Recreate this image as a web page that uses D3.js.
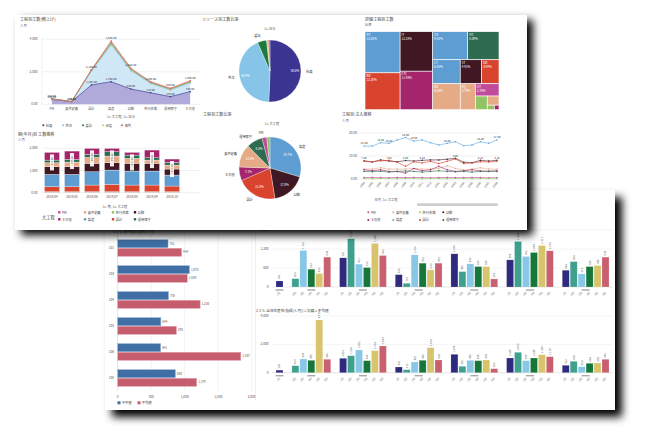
<!DOCTYPE html>
<html><head><meta charset="utf-8">
<script src="https://cdn.jsdelivr.net/npm/d3@7/dist/d3.min.js"></script>
<style>html,body{margin:0;padding:0;background:#fff;overflow:hidden}</style>
</head><body>
<script>
// ================= DATA =================
// Panel 1 – stacked area (工程別工数 積上げ)
const phaseCats = ["PM","要件定義","設計","製造","試験","移行準備","運用保守","その他"];
const resourceNames = ["社員","外注","委託","派遣","海外"];
const resSeisha = [300,160,1190,1390,940,710,470,780];
const resGaichu = [20,5,860,2260,1130,580,410,530];
const resItaku  = [10,5,40,130,80,50,60,80];
const resHaken  = [5,0,10,30,10,10,10,10];
const resKaigai = [5,2,20,80,60,40,40,50];
const areaTicks = [0,2000,4000];
const areaTickLabels = ["0.00","2,000","4,000"];

// Panel 1 – resource pie
const resShare = [50.6,42.9,4.7,0.9,0.9];

// Panel 1 – treemap
const tmNames  = ["PG","BD","IT","ETC","CD","MT","CT","RD","ST","DD","RQ","OT","MG","RV","MR","PX"];
const tmValues = [13.5,12.1,12.0,11.7,9.2,8.2,6.2,6.7,4.8,3.9,3.7,2.7,1.5,1.0,0.3,0.2];
const tmPhase  = ["製造","設計","試験","その他","製造","運用保守","製造","要件定義","試験","設計","要件定義","PM","移行準備","要件定義","移行準備","その他"];
const tmNesting = [[0,1],[2,3],[[4,5],[[6,7],[[8,9],[10,[11,[12,[13,[14,15]]]]]]]]];

// Panel 1 – stacked bars by period
const sbPeriods = ["2019/04","2019/05","2019/06","2019/07","2019/08","2019/09","2019/10"];
const sbPM     = [20,20,20,25,20,20,20];
const sbIko    = [25,25,25,20,25,25,25];
const sbSekkei = [225,225,300,330,300,300,255];
const sbSeizo  = [555,555,600,645,630,630,495];
const sbShiken = [345,345,375,330,345,345,270];
const sbYoken  = [180,210,270,300,225,150,180];
const sbUnyo   = [120,120,135,195,150,105,120];
const sbSonota = [345,375,270,150,120,345,150];
const sbTicks = [0,1000,2000];
const sbTickLabels = ["0.00","1,000","2,000"];

// Panel 1 – phase pie
const phasePieCats = ["製造","試験","設計","その他","要件定義","運用保守","PM","移行準備"];
const phasePieVals = [29.7,17.8,21.0,7.1,12.0,8.3,2.5,1.7];

// Panel 1 – line chart
const months = ["1904","1905","1906","1907","1908","1909","1910","1911","1912","2001","2002","2003","2004","2005","2006","2007","2008"];
const lnPM     = [0.6,0.7,0.6,0.5,0.7,0.6,0.7,0.6,0.5,0.6,0.7,0.6,0.6,0.7,0.6,0.5,0.6];
const lnYoken  = [4.3,4.3,4.9,4.3,4.3,4.3,4.6,4.3,4.3,4.6,5.8,4.6,3.9,4.3,4.9,4.3,4.3];
const lnIko    = [0.2,0.1,0.2,0.2,0.1,0.2,0.2,0.1,0.2,0.2,0.1,0.2,0.2,0.1,0.2,0.2,0.1];
const lnShiken = [7.8,7.4,8.3,7.8,7.5,8.0,7.8,8.1,8.3,8.3,8.6,9.0,7.3,7.1,8.1,7.8,8.1];
const lnSonota = [4.0,3.6,4.0,3.3,3.3,2.6,4.6,3.6,4.0,5.5,4.0,3.3,3.6,4.0,3.5,3.3,3.6];
const lnSeizo  = [14.3,14.3,15.8,15.5,17.0,18.0,16.5,17.0,15.8,14.8,15.5,16.2,14.5,14.8,16.2,15.5,17.0];
const lnSekkei = [7.9,7.5,7.9,8.1,7.3,5.5,7.5,7.0,7.7,6.7,7.7,8.7,6.7,7.0,7.5,7.4,7.7];
const lnUnyo   = [3.3,3.2,3.4,3.0,3.3,3.5,3.3,3.0,3.3,3.6,3.3,3.2,3.3,3.0,3.3,3.4,3.3];
const lnTicks = [0,10,20];
const lnTickLabels = ["0.00","10.00","20.00"];

// Panel 2 – horizontal bars
const deptCats   = ["101","103","104","105","106","108"];
const deptMedian = [751,1070,758,644,641,860];
const deptMean   = [954,1039,1230,876,1837,1179];
const hbarTicks  = [0,500,1000,1500,2000];
const hbarSeries = ["中央値","平均値"];

// Panel 2 – grouped bars
const grpCats   = ["A","B","C","D","E","F","G"];
const grpSeries = ["1月","2月","3月","4月","5月","6月"];
const topS1 = [190,null,921,390,1048,857,530];
const topS2 = [null,263,1524,117,486,1438,803];
const topS3 = [null,1152,721,1016,730,962,413];
const topS4 = [null,562,613,752,645,1089,645];
const topS5 = [null,422,1375,540,645,1311,676];
const topS6 = [null,943,994,752,254,1143,943];
const botS1 = [180,null,1016,402,1298,1037,522];
const botS2 = [null,494,1200,212,452,1440,805];
const botS3 = [null,967,1602,755,875,847,423];
const botS4 = [null,875,847,875,847,1037,663];
const botS5 = [null,3719,1553,1764,896,1270,685];
const botS6 = [null,946,1884,896,282,1129,946];
const topTicks = [0,600,1200,1800];
const botTicks = [0,2000,4000];

// ================= STYLE =================
const FONT='"Noto Sans CJK JP","Noto Sans",sans-serif';
const resColors = ["#3b3591","#86c5e7","#1d7a3f","#e2c65a","#d95b6e"];
const resFills  = ["#aba5d7","#cde7f4","#b9dcc0","#f3e7b5","#f3c6cc"];
const phaseColor = {"PM":"#c04b9b","要件定義":"#e5aa86","移行準備":"#93c463","試験":"#3f1823","その他":"#a4256c","製造":"#5d9dd2","設計":"#d9442f","運用保守":"#2e6b51"};
const phaseLegend = ["PM","要件定義","移行準備","試験","その他","製造","設計","運用保守"];
const grpColors = ["#2e2a7e","#3fa08e","#88c7e6","#17763a","#d9c46e","#c9606f"];
const fmt0 = d3.format(",.0f"), fmt2 = d3.format(",.2f");

const svg=d3.select("body").append("svg").attr("width",646).attr("height",440).attr("font-family",FONT);
svg.append("rect").attr("width",646).attr("height",440).attr("fill","#fff");
const defs=svg.append("defs");
defs.append("filter").attr("id","sh").attr("x","-10%").attr("y","-15%").attr("width","125%").attr("height","135%")
  .append("feGaussianBlur").attr("stdDeviation",4.2);

function T(g,x,y,s,size,o={}){
  const t=g.append("text").attr("x",x).attr("y",y).attr("font-size",size)
    .attr("fill",o.fill||"#555").attr("text-anchor",o.anchor||"start").text(s);
  if(o.rot!=null) t.attr("transform",`rotate(${o.rot},${x},${y})`);
  if(o.weight) t.attr("font-weight",o.weight);
  return t;
}

// ================= PANEL 2 (back) =================
const P2={x:105,y:190,w:510,h:220};
svg.append("rect").attr("x",P2.x+7).attr("y",P2.y+7).attr("width",P2.w).attr("height",P2.h)
  .attr("fill","#000").attr("filter","url(#sh)");
const g2=svg.append("g");
g2.append("rect").attr("x",P2.x).attr("y",P2.y).attr("width",P2.w).attr("height",P2.h).attr("fill","#fff");

// --- horizontal bars
{
  const hx=d3.scaleLinear().domain([0,2000]).range([117.7,251.7]);
  const hy=d3.scaleBand().domain(deptCats).range([235,391]).paddingInner(0.36).paddingOuter(0.18);
  const hs=d3.scaleBand().domain(hbarSeries).range([0,hy.bandwidth()]).paddingInner(0.06);
  T(g2,113,233,"2-2-4. 部門別生産性(人月)",3.6,{fill:"#444"});
  g2.selectAll(".hg").data(hbarTicks).join("line").attr("x1",d=>hx(d)).attr("x2",d=>hx(d))
    .attr("y1",231).attr("y2",391).attr("stroke",(d)=>d===0?"#c8c8c8":"#e6e6e6").attr("stroke-width",0.5);
  hbarTicks.forEach(d=>T(g2,hx(d),397.5,fmt0(d),3.2,{anchor:"middle",fill:"#555"}));
  const rows=deptCats.map((c,i)=>({c,vals:[deptMedian[i],deptMean[i]]}));
  const hcol=["#3f6fa4","#c55d6e"], hstroke=["#8fb0d6","#e6a5b0"];
  rows.forEach(r=>{
    r.vals.forEach((v,j)=>{
      const y=hy(r.c)+hs(hbarSeries[j]);
      g2.append("rect").attr("x",hx(0)).attr("y",y).attr("width",hx(v)-hx(0)).attr("height",hs.bandwidth())
        .attr("fill",hcol[j]).attr("stroke",hstroke[j]).attr("stroke-width",0.5);
      T(g2,hx(v)+1.5,y+hs.bandwidth()/2+1.1,fmt0(v),3,{fill:"#555"});
    });
    T(g2,114,hy(r.c)+hy.bandwidth()/2+1.2,r.c,3.2,{anchor:"end",fill:"#555"});
  });
  hbarSeries.forEach((s,j)=>{
    const x=117.5+j*20;
    g2.append("rect").attr("x",x).attr("y",401.3).attr("width",3).attr("height",3).attr("fill",hcol[j]);
    T(g2,x+4.2,404.2,s,3.3,{fill:"#444"});
  });
  g2.append("line").attr("x1",255.5).attr("x2",255.5).attr("y1",230).attr("y2",400).attr("stroke","#e2e2e2").attr("stroke-width",0.6);
}

// --- grouped bar charts
{
  const topSeries=[topS1,topS2,topS3,topS4,topS5,topS6];
  const botSeries=[botS1,botS2,botS3,botS4,botS5,botS6];
  const slotKeys=[];
  grpCats.forEach((c,i)=>{ if(i>0) slotKeys.push("gap"+i); topSeries.forEach((arr,j)=>{ if(arr[i]!=null) slotKeys.push(i+"-"+j); }); });
  const gx=d3.scaleBand().domain(slotKeys).range([276,609]).paddingInner(0.12);
  function chart(series,yDom,yRange,ticks,title){
    const gy=d3.scaleLinear().domain(yDom).range(yRange);
    const base=gy(0);
    if(title) T(g2,256,yRange[1]-4,title,3.6,{fill:"#444"});
    g2.selectAll(null).data(ticks).join("line").attr("x1",272).attr("x2",613)
      .attr("y1",d=>gy(d)).attr("y2",d=>gy(d)).attr("stroke",d=>d===0?"#cfcfcf":"#e8e8e8").attr("stroke-width",0.5);
    ticks.forEach(d=>T(g2,268.5,gy(d)+1.1,fmt0(d),3.2,{anchor:"end",fill:"#555"}));
    grpCats.forEach((c,i)=>{
      const keys=[];
      series.forEach((arr,j)=>{
        if(arr[i]==null) return;
        const k=i+"-"+j; keys.push(k);
        const x=gx(k), v=arr[i];
        g2.append("rect").attr("x",x).attr("y",gy(v)).attr("width",gx.bandwidth()).attr("height",base-gy(v))
          .attr("fill",grpColors[j]).attr("stroke","#ffffff").attr("stroke-opacity",0.35).attr("stroke-width",0.5);
        T(g2,x+gx.bandwidth()/2+1,gy(v)-1.5,fmt0(v),2.8,{fill:"#666",rot:-90});
        T(g2,x+gx.bandwidth()/2+1,base+6,grpSeries[j],2.8,{fill:"#777",anchor:"end",rot:-45});
      });
      const x0=gx(keys[0]), x1=gx(keys[keys.length-1])+gx.bandwidth();
      const cx=(x0+x1)/2;
      g2.append("rect").attr("x",cx-4).attr("y",base+2.3).attr("width",8).attr("height",1.4).attr("fill","#a9a9a9");
    });
  }
  chart(topSeries,[0,1800],[287,230],topTicks,null);
  chart(botSeries,[0,4000],[372.7,316],botTicks,"2-2-5. 全体生産性(指標(人月))×実績×平均値");
}

// ================= PANEL 1 (front) =================
const P1={x:15,y:15,w:512,h:215};
svg.append("rect").attr("x",P1.x+6).attr("y",P1.y+5).attr("width",P1.w).attr("height",P1.h)
  .attr("fill","#000").attr("filter","url(#sh)");
const g1=svg.append("g");
g1.append("rect").attr("x",P1.x).attr("y",P1.y).attr("width",P1.w).attr("height",P1.h).attr("fill","#fff");

// --- stacked area chart
{
  T(g1,20,21,"工程別工数(積上げ)",4.1,{fill:"#444"});
  T(g1,20,26.5,"人月",3.4,{fill:"#555"});
  const ax=d3.scalePoint().domain(phaseCats).range([42,200]).padding(0.5);
  const ay=d3.scaleLinear().domain([0,4000]).range([104.3,39.3]);
  g1.selectAll(null).data(areaTicks).join("line").attr("x1",42).attr("x2",200).attr("y1",d=>ay(d)).attr("y2",d=>ay(d))
    .attr("stroke","#e3e3e3").attr("stroke-width",0.5);
  g1.append("line").attr("x1",42).attr("x2",42).attr("y1",37).attr("y2",104.3).attr("stroke","#e3e3e3").attr("stroke-width",0.5);
  areaTicks.forEach((d,i)=>T(g1,37.5,ay(d)+1.1,areaTickLabels[i],3.2,{anchor:"end"}));
  const rows=phaseCats.map((c,i)=>({cat:c,"社員":resSeisha[i],"外注":resGaichu[i],"委託":resItaku[i],"派遣":resHaken[i],"海外":resKaigai[i]}));
  const st=d3.stack().keys(resourceNames)(rows);
  const area=d3.area().x(d=>ax(d.data.cat)).y0(d=>ay(d[0])).y1(d=>ay(d[1]));
  const line=d3.line().x(d=>ax(d.data.cat)).y(d=>ay(d[1]));
  st.forEach((s,i)=>g1.append("path").attr("d",area(s)).attr("fill",resFills[i]).attr("opacity",0.95));
  st.forEach((s,i)=>{
    g1.append("path").attr("d",line(s)).attr("fill","none").attr("stroke",resColors[i]).attr("stroke-width",0.7);
    g1.selectAll(null).data(s).join("circle").attr("cx",d=>ax(d.data.cat)).attr("cy",d=>ay(d[1])).attr("r",0.8).attr("fill",resColors[i]);
  });
  st[0].forEach(d=>T(g1,ax(d.data.cat),ay(d[1])-1.8,fmt2(d[1]),2.8,{anchor:"middle",fill:"#333"}));
  st[4].forEach(d=>T(g1,ax(d.data.cat),ay(d[1])-1.8,fmt2(d[1]),2.8,{anchor:"middle",fill:"#333"}));
  phaseCats.forEach(c=>T(g1,ax(c),110,c,3.2,{anchor:"middle"}));
  T(g1,121,117.5,"Lv. 大工程 , Lv. 区分",3.2,{anchor:"middle"});
  const lx=[43.3,63,83,103,122];
  resourceNames.forEach((n,i)=>{
    g1.append("circle").attr("cx",lx[i]).attr("cy",125.3).attr("r",1).attr("fill",resColors[i]);
    T(g1,lx[i]+2.5,126.6,n,3.3,{fill:"#444"});
  });
}

// --- resource pie
{
  T(g1,202,21,"リソース別工数比率",4.1,{fill:"#444"});
  T(g1,270,29.5,"Lv. 区分",3.2,{anchor:"middle"});
  const pie=d3.pie().sort(null).value(d=>d)(resShare);
  const arc=d3.arc().innerRadius(0).outerRadius(31);
  const arcIn=d3.arc().innerRadius(25).outerRadius(25);
  const arcOut=d3.arc().innerRadius(36).outerRadius(36);
  const c=g1.append("g").attr("transform","translate(270,71)");
  c.selectAll(null).data(pie).join("path").attr("d",arc).attr("fill",(d,i)=>resColors[i]).attr("stroke","#fff").attr("stroke-width",0.3);
  pie.forEach((d,i)=>{
    if(i<3){
      const [ox,oy]=arcOut.centroid(d);
      T(c,ox,oy+1,resourceNames[i],3.3,{anchor:ox>0?"start":"end",fill:"#333"});
    }
    if(i<2){
      const [ix,iy]=arcIn.centroid(d);
      T(c,ix,iy+1,resShare[i].toFixed(1)+"%",3,{anchor:"middle",fill:"#fff"});
    }
  });
}

// --- treemap
{
  T(g1,365,20.5,"詳細工程別工数",4.1,{fill:"#444"});
  T(g1,365,26,"比率",3.3,{});
  function toNode(n){ return Array.isArray(n)?{children:n.map(toNode)}:{name:tmNames[n],value:tmValues[n],idx:n}; }
  const root=d3.hierarchy(toNode(tmNesting)).sum(d=>d.children?0:d.value);
  d3.treemap().tile(d3.treemapSliceDice).size([134,78])(root);
  const total=d3.sum(tmValues);
  const tg=g1.append("g").attr("transform","translate(365,31.7)");
  root.leaves().forEach(l=>{
    tg.append("rect").attr("x",l.x0).attr("y",l.y0).attr("width",l.x1-l.x0).attr("height",l.y1-l.y0)
      .attr("fill",phaseColor[tmPhase[l.data.idx]]).attr("stroke","#fff").attr("stroke-width",0.6);
    if(l.x1-l.x0>12 && l.y1-l.y0>12){
      T(tg,l.x0+1.5,l.y0+4,l.data.name,3,{fill:"#fff"});
      T(tg,l.x0+1.5,l.y0+8,(l.data.value/total*100).toFixed(2)+"%",3,{fill:"#fff"});
    }
  });
}

// --- stacked bars by period
{
  T(g1,18,135.5,"期(年月)別 工数推移",4.1,{fill:"#444"});
  T(g1,18,141,"人月",3.4,{});
  const order=["PM","移行準備","設計","製造","試験","要件定義","運用保守","その他"];
  const srcs={"PM":sbPM,"移行準備":sbIko,"設計":sbSekkei,"製造":sbSeizo,"試験":sbShiken,"要件定義":sbYoken,"運用保守":sbUnyo,"その他":sbSonota};
  const rows=sbPeriods.map((p,i)=>{const o={p}; order.forEach(k=>o[k]=srcs[k][i]); return o;});
  const st=d3.stack().keys(order)(rows);
  const bx=d3.scaleBand().domain(sbPeriods).range([42,182]).paddingInner(0.25).paddingOuter(0.125);
  const by=d3.scaleLinear().domain([0,2000]).range([192.7,148.3]);
  g1.selectAll(null).data(sbTicks).join("line").attr("x1",42).attr("x2",200).attr("y1",d=>by(d)).attr("y2",d=>by(d))
    .attr("stroke","#e3e3e3").attr("stroke-width",0.5);
  sbTicks.forEach((d,i)=>T(g1,37.5,by(d)+1.1,sbTickLabels[i],3.2,{anchor:"end"}));
  st.forEach(s=>{
    g1.selectAll(null).data(s).join("rect").attr("x",d=>bx(d.data.p)).attr("y",d=>by(d[1]))
      .attr("width",bx.bandwidth()).attr("height",d=>by(d[0])-by(d[1]))
      .attr("fill",phaseColor[s.key]).attr("stroke","#fff").attr("stroke-width",0.3);
  });
  rows.forEach(r=>{
    const tot=d3.sum(order,k=>r[k]);
    const cx=bx(r.p)+bx.bandwidth()/2, y0=by(tot)+2;
    g1.append("rect").attr("x",cx-2).attr("y",y0).attr("width",4).attr("height",16).attr("fill","#fff").attr("opacity",0.92);
    T(g1,cx+1,y0+8,fmt2(tot),2.6,{anchor:"middle",fill:"#333",rot:-90});
    T(g1,cx,198,r.p,3.1,{anchor:"middle"});
  });
  T(g1,115,207.5,"Lv. 期 , Lv. 大工程",3.2,{anchor:"middle"});
  T(g1,42,218.6,"大工程",4.2,{fill:"#333"});
  const lxs=[59.3,85,113,135];
  phaseLegend.forEach((k,i)=>{
    const x=lxs[i%4], y=i<4?212.3:219.3;
    g1.append("rect").attr("x",x-1.2).attr("y",y-1.2).attr("width",2.4).attr("height",2.4).attr("rx",0.6).attr("fill",phaseColor[k]);
    T(g1,x+2.8,y+1.2,k,3.2,{fill:"#444"});
  });
}

// --- phase pie
{
  T(g1,203,115.5,"工程別工数比率",4.1,{fill:"#444"});
  T(g1,272,125,"Lv. 大工程",3.2,{anchor:"middle"});
  const pie=d3.pie().sort(null).value(d=>d)(phasePieVals);
  const arc=d3.arc().innerRadius(0).outerRadius(31);
  const arcIn=d3.arc().innerRadius(22).outerRadius(22);
  const arcOut=d3.arc().innerRadius(36).outerRadius(36);
  const c=g1.append("g").attr("transform","translate(270,168)");
  c.selectAll(null).data(pie).join("path").attr("d",arc).attr("fill",(d,i)=>phaseColor[phasePieCats[i]]).attr("stroke","#fff").attr("stroke-width",0.3);
  pie.forEach((d,i)=>{
    if(i<7){
      const [ox,oy]=arcOut.centroid(d);
      T(c,ox,oy+1,phasePieCats[i],3.2,{anchor:ox>0?"start":"end",fill:"#333"});
    }
    if(phasePieVals[i]>5){
      const [ix,iy]=arcIn.centroid(d);
      T(c,ix,iy+1,phasePieVals[i].toFixed(1)+"%",3,{anchor:"middle",fill:"#fff"});
    }
  });
}

// --- line chart
{
  T(g1,342,116,"工程別 注入推移",4.1,{fill:"#444"});
  T(g1,342,121.5,"人月",3.4,{});
  const lx=d3.scalePoint().domain(months).range([364,497]);
  const ly=d3.scaleLinear().domain([0,20]).range([179,133]);
  g1.selectAll(null).data(lnTicks).join("line").attr("x1",360).attr("x2",499).attr("y1",d=>ly(d)).attr("y2",d=>ly(d))
    .attr("stroke","#e3e3e3").attr("stroke-width",0.5);
  lnTicks.forEach((d,i)=>T(g1,357,ly(d)+1.1,lnTickLabels[i],3.2,{anchor:"end"}));
  const series={"PM":lnPM,"要件定義":lnYoken,"移行準備":lnIko,"試験":lnShiken,"その他":lnSonota,"製造":lnSeizo,"設計":lnSekkei,"運用保守":lnUnyo};
  const line=d3.line().x((d,i)=>lx(months[i])).y(d=>ly(d));
  phaseLegend.forEach(k=>{
    const arr=series[k], col=k==="製造"?"#5aa5de":phaseColor[k];
    g1.append("path").attr("d",line(arr)).attr("fill","none").attr("stroke",col).attr("stroke-width",0.6);
    g1.selectAll(null).data(arr).join("circle").attr("cx",(d,i)=>lx(months[i])).attr("cy",d=>ly(d)).attr("r",0.75).attr("fill",col);
  });
  [0,2,3,5,6,10,14,16].forEach(i=>T(g1,lx(months[i]),ly(lnSeizo[i])-1.8,fmt2(lnSeizo[i]),2.8,{anchor:"middle",fill:"#333"}));
  [0,3,5,7,11,14,16].forEach(i=>T(g1,lx(months[i]),ly(lnShiken[i])-1.8,fmt2(lnShiken[i]),2.6,{anchor:"middle",fill:"#333"}));
  months.forEach(m=>T(g1,lx(m)+1,183,m,2.9,{anchor:"end",rot:-50}));
  T(g1,386,200.5,"年月 , Lv. 大工程",3.2,{anchor:"middle"});
  g1.append("rect").attr("x",417).attr("y",203.3).attr("width",81).attr("height",2.6).attr("rx",1).attr("fill","#cfcfcf");
  const lxs=[368.3,393.3,420,443.3];
  phaseLegend.forEach((k,i)=>{
    const x=lxs[i%4], y=i<4?212.3:220;
    g1.append("circle").attr("cx",x).attr("cy",y).attr("r",1).attr("fill",k==="製造"?"#5aa5de":phaseColor[k]);
    T(g1,x+2.6,y+1.2,k,3.2,{fill:"#444"});
  });
}
</script>
</body></html>
